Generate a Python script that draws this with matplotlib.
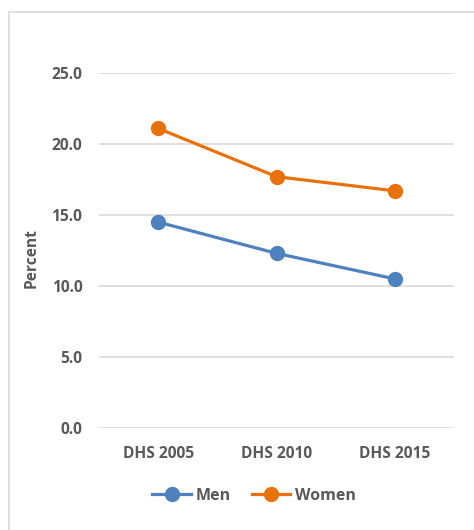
import matplotlib
matplotlib.use("Agg")
import matplotlib.pyplot as plt
from matplotlib.patches import Rectangle

surveys = ["DHS 2005", "DHS 2010", "DHS 2015"]
men = [14.5, 12.3, 10.5]
women = [21.1, 17.7, 16.7]
yticks = [0, 5, 10, 15, 20, 25]

W, H = 474, 530
fig = plt.figure(figsize=(W / 100, H / 100), dpi=100)
plt.rcParams["font.family"] = ["Open Sans", "DejaVu Sans"]

# chart frame
fig.patches.append(Rectangle((9 / W, -0.1), 1.2, 1.1 - 12 / H, transform=fig.transFigure,
                             fill=False, edgecolor="#d9d9d9", linewidth=1.2))

ax = fig.add_axes([99 / W, (H - 428) / H, (454 - 99) / W, (428 - 73) / H])
x = range(len(surveys))
ax.plot(x, men, color="#4E81BD", marker="o", markersize=10, linewidth=2.3, label="Men")
ax.plot(x, women, color="#E8710C", marker="o", markersize=10, linewidth=2.3, label="Women")

ax.set_xlim(-0.5, 2.5)
ax.set_ylim(0, 25)
ax.set_yticks(yticks)
ax.set_yticklabels([f"{v:.1f}" for v in yticks])
ax.set_xticks(list(x))
ax.set_xticklabels(surveys)
ax.yaxis.grid(True, color="#d9d9d9", linewidth=1.2)
ax.set_axisbelow(True)
for s in ax.spines.values():
    s.set_visible(False)
ax.tick_params(length=0, labelsize=11.2, labelcolor="#595959")
ax.tick_params(axis="y", pad=12)
ax.tick_params(axis="x", pad=13)
for lbl in ax.get_xticklabels() + ax.get_yticklabels():
    lbl.set_fontweight("bold")

fig.text(32 / W, (H - 258) / H, "Percent", rotation=90, ha="center", va="center",
         fontsize=11.2, fontweight="bold", color="#595959")

leg = fig.legend(loc="center", bbox_to_anchor=(254 / W, (H - 496) / H), ncol=2, frameon=False,
                 prop={"weight": "bold", "size": 11.5}, handlelength=2.4, columnspacing=1.3,
                 handletextpad=0.3)
for t in leg.get_texts():
    t.set_color("#595959")

fig.savefig("out.png", dpi=100)
